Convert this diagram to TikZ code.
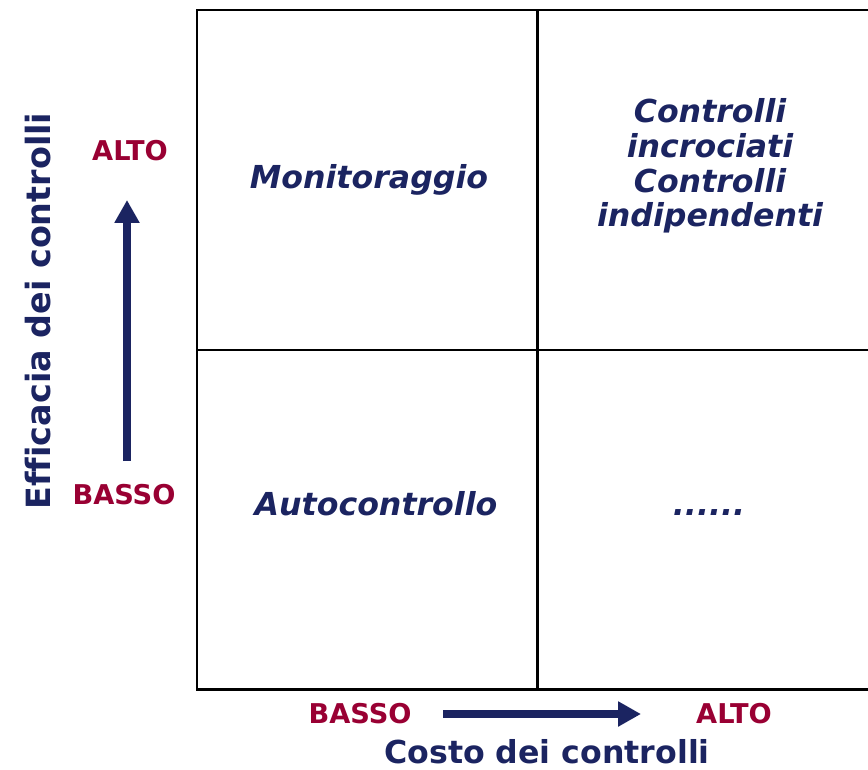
\documentclass[tikz,border=0pt]{standalone}
\usepackage{fontspec}
\setmainfont[Ligatures=CommonOff]{DejaVu Sans}
\usetikzlibrary{arrows.meta}
\definecolor{navy}{HTML}{1B2461}
\definecolor{wine}{HTML}{990033}
\tikzset{
  cell/.style={font=\bfseries\itshape\fontsize{18}{19.8}\selectfont, text=navy, align=center},
  level/.style={font=\bfseries\fontsize{15.5}{18}\selectfont, text=wine},
  axis/.style={font=\bfseries\fontsize{18}{22}\selectfont, text=navy, inner sep=1pt},
  trend/.style={navy, line width=4pt, -{Triangle[length=13pt,width=13.5pt]}}
}
\begin{document}
\begin{tikzpicture}[x=0.02cm,y=-0.02cm]
    \useasboundingbox (0,0) rectangle (868,770);
    % matrix grid, open on the right
    \draw[line width=1.7pt] (868,10) -- (197,10) -- (197,689) -- (868,689);
    \draw[line width=1.7pt] (537,10) -- (537,689);
    \draw[line width=1.7pt] (197,350) -- (868,350);

    % quadrants
    \node[cell] (mon) at (369,180) {Monitoraggio};
    \node[cell] (cross) at (710,166) {Controlli\\ incrociati\\ Controlli\\ indipendenti};
    \node[cell] (auto) at (376,504) {Autocontrollo};
    \node[cell] (dots) at (709,513) {......};

    % vertical axis
    \node[level] (yhigh) at (130,151) {ALTO};
    \node[level] (ylow) at (124,495) {BASSO};
    \coordinate (ystart) at (127,461);
    \coordinate (yend) at (127,200);
    \draw[trend] (ystart) -- (yend);
    \node[axis, font=\bfseries\fontsize{19}{22}\selectfont, rotate=90] (ylabel) at (38,311) {Efficacia dei controlli};

    % horizontal axis
    \node[level] (xlow) at (360,714) {BASSO};
    \node[level] (xhigh) at (734,714) {ALTO};
    \coordinate (xstart) at (443,714);
    \coordinate (xend) at (641,714);
    \draw[trend] (xstart) -- (xend);
    \node[axis] (xlabel) at (547,752) {Costo dei controlli};
\end{tikzpicture}
\end{document}
